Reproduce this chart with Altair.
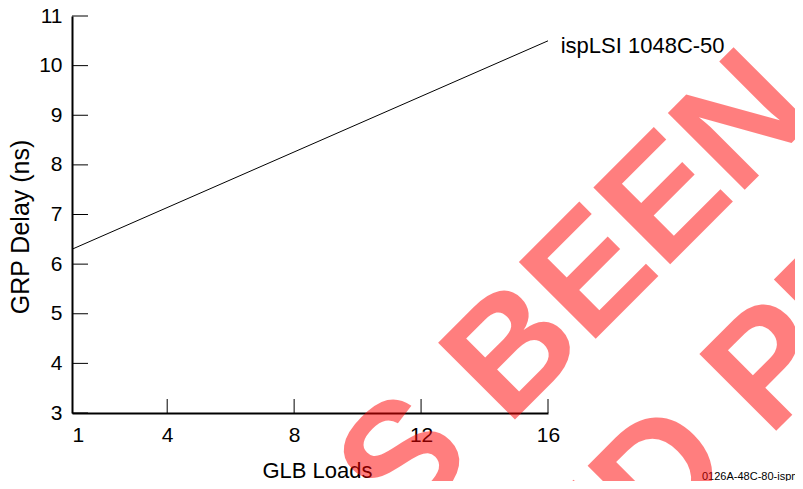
import altair as alt
import pandas as pd

# ---- data ----
x_loads = [1, 16]
grp_delay = [6.3, 10.5]
series_label = ["ispLSI 1048C-50"]
label_x = [16.4]
label_y = [10.25]
x_tick_values = [1, 4, 8, 12, 16]
y_tick_values = [3, 4, 5, 6, 7, 8, 9, 10, 11]
x_title = "GLB Loads"
y_title = "GRP Delay (ns)"
footer_text = ["0126A-48C-80-ispmi"]
watermark_line1 = ["HAS BEEN"]
watermark_line2 = ["ED PR"]

W, H = 476, 397
FONT = "Liberation Sans"

xs = alt.Scale(domain=[1, 16], nice=False, zero=False)
ys = alt.Scale(domain=[3, 11], nice=False, zero=False)

x_axis = alt.Axis(
    values=x_tick_values, title=x_title, ticks=False, tickSize=0, grid=False,
    domainColor="black", domainWidth=2, labelFont=FONT, labelFontSize=21,
    labelColor="black", labelPadding=11, labelFlush=False,
    labelAlign={"expr": "datum.value == 1 ? 'left' : 'center'"},
    titleFont=FONT, titleFontSize=22, titleFontWeight="normal", titleColor="black",
    titleX=245, titleY=64, titleBaseline="alphabetic", titleAlign="center",
)
y_axis = alt.Axis(
    values=y_tick_values, title=y_title, ticks=False, tickSize=0, grid=False,
    domainColor="black", domainWidth=2, labelFont=FONT, labelFontSize=21,
    labelColor="black", labelPadding=10, labelFlush=False,
    titleFont=FONT, titleFontSize=25, titleFontWeight="normal", titleColor="black",
    titleX=-44, titleY=210.5, titleAngle=270, titleBaseline="alphabetic", titleAlign="center",
)

line_df = pd.DataFrame({"loads": x_loads, "delay": grp_delay})
line = alt.Chart(line_df).mark_line(color="black", strokeWidth=1).encode(
    x=alt.X("loads:Q", scale=xs, axis=x_axis, title=x_title),
    y=alt.Y("delay:Q", scale=ys, axis=y_axis, title=y_title),
)

ytick_df = pd.DataFrame({"v": y_tick_values})
yticks = alt.Chart(ytick_df).mark_rule(color="black", strokeWidth=1).encode(
    y=alt.Y("v:Q", scale=ys, axis=y_axis, title=y_title),
    x=alt.value(0), x2=alt.value(16),
)

xtick_df = pd.DataFrame({"v": x_tick_values[1:]})
xticks = alt.Chart(xtick_df).mark_rule(color="black", strokeWidth=1).encode(
    x=alt.X("v:Q", scale=xs, axis=x_axis, title=x_title),
    y=alt.value(H), y2=alt.value(H - 14),
)

label_df = pd.DataFrame({"lx": label_x, "ly": label_y, "t": series_label})
label = alt.Chart(label_df).mark_text(
    align="left", baseline="alphabetic", font=FONT, fontSize=22, color="black"
).encode(
    x=alt.X("lx:Q", scale=xs, axis=x_axis, title=x_title),
    y=alt.Y("ly:Q", scale=ys, axis=y_axis, title=y_title),
    text="t:N",
)

footer = alt.Chart(pd.DataFrame({"t": footer_text})).mark_text(
    align="left", baseline="alphabetic", font=FONT, fontSize=11, color="black"
).encode(x=alt.value(630), y=alt.value(464), text="t:N")

wm_style = dict(align="left", baseline="alphabetic", font=FONT, fontSize=158,
                fontWeight="bold", color="#ff0000", opacity=0.5, angle=315)
wm1 = alt.Chart(pd.DataFrame({"t": watermark_line1})).mark_text(**wm_style).encode(
    x=alt.value(168.6), y=alt.value(677.9), text="t:N")
wm2 = alt.Chart(pd.DataFrame({"t": watermark_line2})).mark_text(**wm_style).encode(
    x=alt.value(510.5), y=alt.value(608.5), text="t:N")

chart = alt.layer(line, yticks, xticks, label, footer, wm1, wm2).properties(
    width=W, height=H,
    autosize=alt.AutoSizeParams(type="none"),
    padding={"left": 64, "top": 8, "right": 247, "bottom": 68},
).configure_view(strokeWidth=0)

chart.save("out.html", embed_options={"renderer": "svg", "actions": False})
